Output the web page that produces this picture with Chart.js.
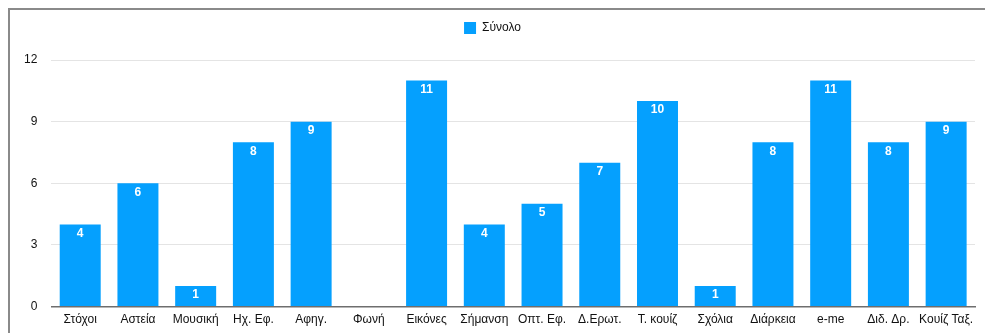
<html lang="el">
<head>
    <meta charset="UTF-8">
    <title>Σύνολο</title>
    <script src="https://cdn.jsdelivr.net/npm/chart.js"></script>
    <style>
        body {
            margin: 0;
            padding: 0;
            background: #fff;
            font-family: "Liberation Sans", Arial, sans-serif;
        }

        /* gray frame on the top and left, like the screenshot */
        .frame {
            position: absolute;
            left: 8px;
            top: 8px;
            width: 975px;
            height: 323px;
            border-left: 2px solid #8a8a8a;
            border-top: 2px solid #8a8a8a;
        }

        .frame canvas {
            display: block;
        }
    </style>
</head>
<body>
    <div class="frame">
        <canvas id="chart" width="975" height="323"></canvas>
    </div>

    <script>
        const categories = ['Στόχοι', 'Αστεία', 'Μουσική', 'Ηχ. Εφ.', 'Αφηγ.', 'Φωνή', 'Εικόνες', 'Σήμανση',
            'Οπτ. Εφ.', 'Δ.Ερωτ.', 'Τ. κουίζ', 'Σχόλια', 'Διάρκεια', 'e-me', 'Διδ. Δρ.', 'Κουίζ Ταξ.'];
        const totals = [4, 6, 1, 8, 9, 0, 11, 4, 5, 7, 10, 1, 8, 11, 8, 9];
        const yTicks = [0, 3, 6, 9, 12];

        const FONT = '"Liberation Sans", Arial, sans-serif';

        // white value written near the top of each bar
        const barValues = {
            id: 'barValues',
            afterDatasetsDraw(chart) {
                const ctx = chart.ctx;
                const meta = chart.getDatasetMeta(0);
                ctx.save();
                ctx.fillStyle = '#ffffff';
                ctx.font = 'bold 12px ' + FONT;
                ctx.textAlign = 'center';
                ctx.textBaseline = 'middle';
                meta.data.forEach((bar, i) => {
                    const v = totals[i];
                    if (!v) return;
                    ctx.fillText(String(v), bar.x, bar.y + 9);
                });
                ctx.restore();
            }
        };

        // extra room under the legend
        const legendGap = {
            id: 'legendGap',
            beforeLayout(chart) {
                const legend = chart.legend;
                if (!legend || legend._gapPatched) return;
                const fit = legend.fit;
                legend.fit = function() {
                    fit.call(this);
                    this.height += 16;
                };
                legend._gapPatched = true;
            }
        };

        document.addEventListener("DOMContentLoaded", function() {
            const ctx = document.getElementById("chart").getContext("2d");

            new Chart(ctx, {
                type: 'bar',
                data: {
                    labels: categories,
                    datasets: [{
                        label: 'Σύνολο',
                        data: totals,
                        backgroundColor: '#05a0fe',
                        borderWidth: 0,
                        categoryPercentage: 1,
                        barPercentage: 0.71
                    }]
                },
                options: {
                    responsive: false,
                    animation: false,
                    layout: {
                        padding: { left: 0, right: 10, top: 2, bottom: 0 }
                    },
                    plugins: {
                        tooltip: { enabled: false },
                        legend: {
                            position: 'top',
                            labels: {
                                boxWidth: 12,
                                boxHeight: 12,
                                padding: 10,
                                color: '#111',
                                font: { family: FONT, size: 12 }
                            }
                        }
                    },
                    scales: {
                        x: {
                            grid: { display: false, drawTicks: false },
                            border: { display: true, color: '#6e6e6e', width: 1.5 },
                            ticks: {
                                color: '#111',
                                padding: 6,
                                maxRotation: 0,
                                autoSkip: false,
                                font: { family: FONT, size: 12 }
                            }
                        },
                        y: {
                            min: 0,
                            max: 12,
                            afterBuildTicks(axis) {
                                axis.ticks = yTicks.map(v => ({ value: v }));
                            },
                            grid: { color: '#e4e4e4', drawTicks: false },
                            border: { display: false },
                            ticks: {
                                color: '#111',
                                padding: 14,
                                font: { family: FONT, size: 12 }
                            }
                        }
                    }
                },
                plugins: [barValues, legendGap]
            });
        });
    </script>
</body>
</html>
